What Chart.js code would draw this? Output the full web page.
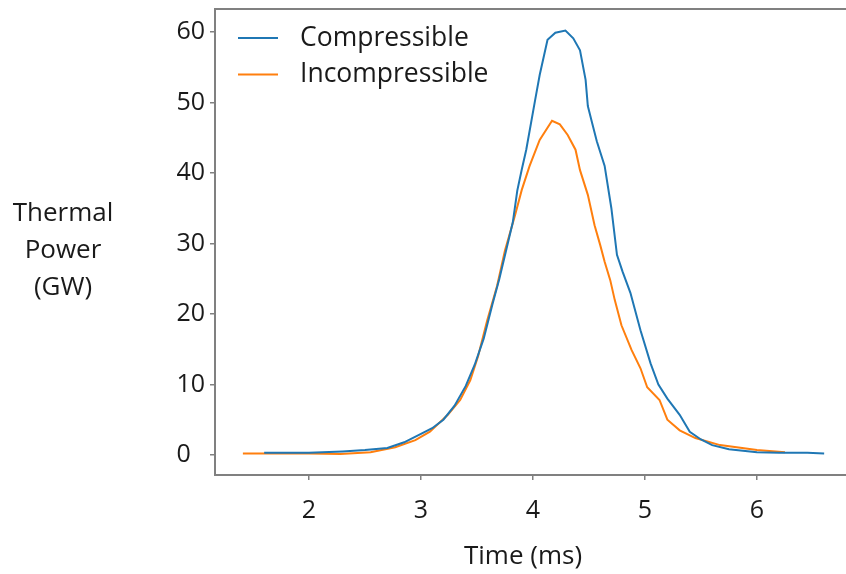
<!DOCTYPE html>
<html>
<head>
<meta charset="utf-8">
<script src="https://cdn.jsdelivr.net/npm/chart.js@4"></script>
<style>
  html, body { margin: 0; padding: 0; background: #fff; }
  #wrap { width: 846px; height: 574px; }
</style>
</head>
<body>
<div id="wrap"><canvas id="chart" width="846" height="574"></canvas></div>
<script>
// values
const timeC = [1.6, 2.0, 2.3, 2.5, 2.7, 2.85, 3.0, 3.1, 3.2, 3.3, 3.4, 3.48, 3.56, 3.64, 3.7, 3.76, 3.82, 3.86, 3.9, 3.94, 4.02, 4.06, 4.13, 4.2, 4.29, 4.36, 4.42, 4.47, 4.49, 4.53, 4.57, 4.64, 4.7, 4.75, 4.8, 4.87, 4.96, 5.05, 5.12, 5.2, 5.31, 5.4, 5.5, 5.6, 5.75, 6.0, 6.2, 6.45, 6.6];
const powerC = [0.3, 0.3, 0.5, 0.7, 1.0, 1.8, 3.0, 3.8, 5.0, 7.0, 9.8, 12.8, 16.5, 21.5, 25, 29, 33, 37.5, 40.5, 43.3, 50.4, 53.9, 58.9, 59.9, 60.2, 59.1, 57.4, 53.2, 49.5, 47, 44.5, 41, 35, 28.4, 26, 23, 17.7, 13, 10, 8, 5.7, 3.3, 2.2, 1.4, 0.8, 0.4, 0.3, 0.3, 0.2];

const timeI = [1.41, 2.0, 2.28, 2.55, 2.77, 2.95, 3.08, 3.24, 3.35, 3.44, 3.51, 3.59, 3.68, 3.75, 3.84, 3.9, 3.97, 4.06, 4.17, 4.24, 4.31, 4.38, 4.42, 4.49, 4.55, 4.6, 4.64, 4.69, 4.73, 4.79, 4.88, 4.96, 5.02, 5.13, 5.2, 5.31, 5.45, 5.67, 6.0, 6.25];
const powerI = [0.2, 0.2, 0.15, 0.4, 1.1, 2.1, 3.3, 5.7, 7.8, 10.6, 14, 19, 24, 29, 34, 37.6, 41, 44.7, 47.4, 46.9, 45.4, 43.3, 40.4, 36.9, 32.6, 29.8, 27.4, 24.8, 22, 18.4, 14.9, 12.3, 9.6, 7.8, 5, 3.5, 2.4, 1.4, 0.7, 0.4];

const seriesNames = ['Compressible', 'Incompressible'];
const xTicks = [2, 3, 4, 5, 6];
const yTicks = [0, 10, 20, 30, 40, 50, 60];
const xTitle = 'Time (ms)';
const yTitle = ['Thermal', 'Power', '(GW)'];

const FONT = "'Open Sans', 'Noto Sans', sans-serif";
const AXIS = '#808080';
const TEXT = '#1a1a1a';
const colors = ['#1f77b4', '#ff7f0e'];

function toPoints(xs, ys) {
    return xs.map((x, i) => ({ x: x, y: ys[i] }));
}

// legend, top frame line and axis titles drawn by hand, placed as in the reference
const decorations = {
    id: 'decorations',
    afterDraw(chart) {
        const ctx = chart.ctx;
        const area = chart.chartArea;
        ctx.save();

        ctx.strokeStyle = AXIS;
        ctx.lineWidth = 2;
        ctx.beginPath();
        ctx.moveTo(area.left - 1, area.top);
        ctx.lineTo(chart.width, area.top);
        ctx.stroke();

        ctx.font = '26.5px ' + FONT;
        ctx.textBaseline = 'middle';
        ctx.textAlign = 'left';
        chart.data.datasets.forEach((ds, i) => {
            const y = 38 + i * 36.5;
            ctx.strokeStyle = ds.borderColor;
            ctx.lineWidth = 2;
            ctx.beginPath();
            ctx.moveTo(238, y);
            ctx.lineTo(278, y);
            ctx.stroke();
            ctx.fillStyle = TEXT;
            ctx.fillText(ds.label, 300, y);
        });

        ctx.font = '26px ' + FONT;
        ctx.textAlign = 'center';
        ctx.fillText(xTitle, 523, 557);
        yTitle.forEach((line, i) => {
            ctx.fillText(line, 63, 214 + i * 37);
        });
        ctx.restore();
    }
};

new Chart(document.getElementById('chart'), {
    type: 'line',
    data: {
        datasets: [
            {
                label: seriesNames[0],
                data: toPoints(timeC, powerC),
                borderColor: colors[0],
                borderWidth: 2,
                pointRadius: 0,
                tension: 0,
                fill: false
            },
            {
                label: seriesNames[1],
                data: toPoints(timeI, powerI),
                borderColor: colors[1],
                borderWidth: 2,
                pointRadius: 0,
                tension: 0,
                fill: false
            }
        ]
    },
    options: {
        responsive: false,
        animation: false,
        layout: { padding: { top: 9, left: 0, right: 0, bottom: 0 } },
        plugins: {
            legend: { display: false },
            tooltip: { enabled: false }
        },
        scales: {
            x: {
                type: 'linear',
                min: 1.161,
                max: 6.795,
                afterBuildTicks: (scale) => { scale.ticks = xTicks.map(v => ({ value: v })); },
                afterFit: (scale) => {
                    scale.height = 99;
                    scale.paddingLeft = 0;
                    scale.paddingRight = 0;
                },
                grid: { drawOnChartArea: false, tickLength: 5, color: AXIS, lineWidth: 1.5 },
                border: { display: true, color: AXIS, width: 2 },
                ticks: { color: TEXT, font: { family: FONT, size: 25 }, padding: 16, maxRotation: 0 }
            },
            y: {
                type: 'linear',
                min: -2.84,
                max: 63.26,
                afterBuildTicks: (scale) => { scale.ticks = yTicks.map(v => ({ value: v })); },
                afterFit: (scale) => {
                    scale.width = 215;
                    scale.paddingTop = 0;
                    scale.paddingBottom = 0;
                },
                grid: { drawOnChartArea: false, tickLength: 5, color: AXIS, lineWidth: 1.5 },
                border: { display: true, color: AXIS, width: 2 },
                ticks: {
                    color: TEXT,
                    font: { family: FONT, size: 25 },
                    padding: 5,
                    // the zero label sits one digit to the left in the reference
                    callback: (v) => (v === 0 ? '0\u2007' : String(v))
                }
            }
        }
    },
    plugins: [decorations]
});
</script>
</body>
</html>
